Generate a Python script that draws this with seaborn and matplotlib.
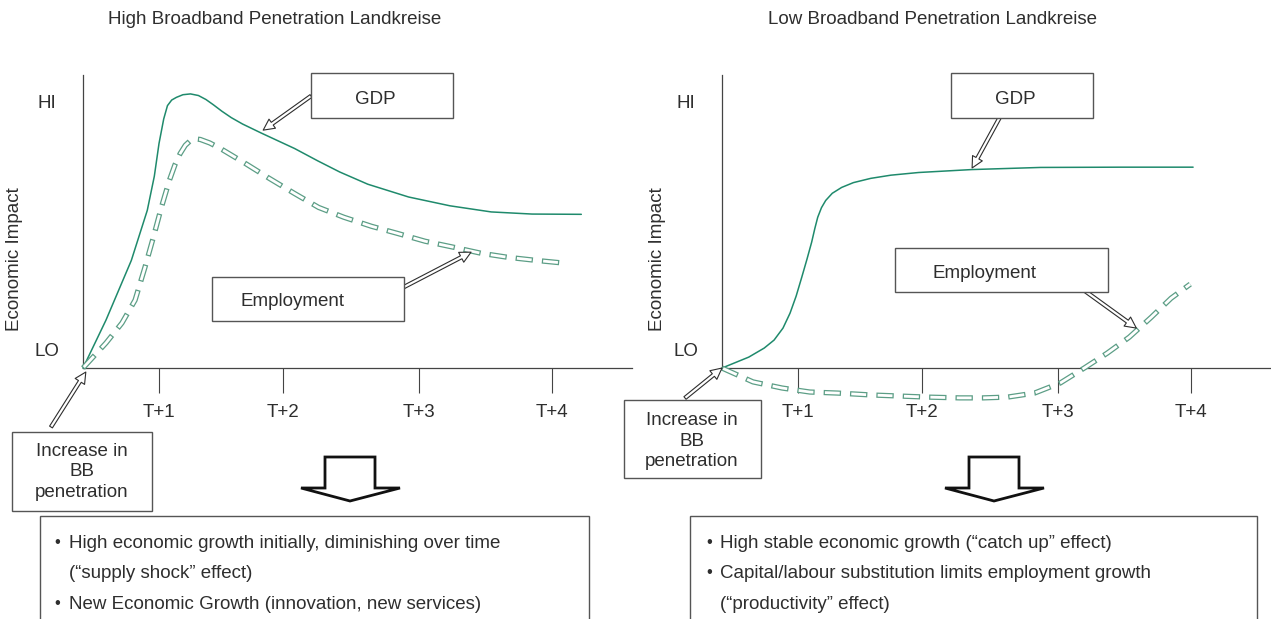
"""
Broadband penetration -> economic impact (schematic), two panels
"""

import numpy as np
import pandas as pd
import matplotlib
matplotlib.use("Agg")
import matplotlib.pyplot as plt
from matplotlib.patches import Rectangle, Polygon
import seaborn as sns

# ─────────────────────────────────────────────
# DATA  (x: time, T+4 = 100 ; y: impact, LO-axis = 0, HI = 100)
# ─────────────────────────────────────────────
TICK_POS    = [16.2, 42.6, 71.5, 100]
TICK_LABELS = ["T+1", "T+2", "T+3", "T+4"]
Y_TICKS     = [6.8, 100]
Y_LABELS    = ["LO", "HI"]

# high penetration panel
hi_gdp_x = [0, 4.9, 10.3, 13.7, 15.2, 16.2, 17.2, 18.0, 18.9, 19.9, 21.3, 22.9, 24.6,
            26.2, 27.8, 29.6, 31.6, 34.0, 38.0, 45.1, 50.0, 54.7, 60.7, 69.4, 78.2,
            87.0, 95.7, 106.2]
hi_gdp_y = [0, 18.0, 40.4, 59.2, 72.0, 84.3, 93.5, 98.5, 100.6, 101.6, 102.6, 102.9, 102.3,
            100.8, 98.8, 96.4, 94.0, 91.6, 88.2, 82.4, 77.8, 73.6, 69.0, 64.2, 60.9,
            58.6, 57.8, 57.7]
hi_emp_x = [0, 4.9, 8.3, 11.1, 13.2, 15.0, 16.7, 18.4, 19.6, 20.7, 21.8, 22.9, 24.0, 25.0,
            27.0, 29.3, 34.6, 39.7, 45.1, 50.2, 55.6, 61.5, 66.9, 72.9, 79.1, 84.8, 90.4,
            96.6, 103.0]
hi_emp_y = [0, 9.4, 16.9, 25.5, 37.8, 49.1, 60.3, 70.4, 76.3, 80.5, 83.6, 85.4, 86.0, 85.8,
            84.5, 82.4, 76.8, 71.2, 65.5, 60.3, 56.6, 53.2, 50.6, 47.6, 45.3, 43.1, 41.6,
            40.4, 39.3]

# low penetration panel
lo_gdp_x = [0, 5.7, 9.0, 11.1, 13.0, 14.5, 15.8, 17.0, 18.1, 19.1, 19.8, 20.4, 21.2,
            22.1, 23.5, 25.5, 28.0, 31.7, 36.0, 41.9, 53.2, 67.9, 85.1, 100.4]
lo_gdp_y = [0, 4.1, 7.5, 10.5, 15.0, 20.6, 27.0, 34.1, 40.8, 47.2, 52.5, 56.6, 60.2,
            62.9, 65.6, 67.8, 69.6, 71.2, 72.4, 73.4, 74.5, 75.3, 75.4, 75.4]
lo_emp_x = [0, 6.6, 12.8, 18.7, 24.7, 31.7, 37.7, 43.6, 50.6, 55.7, 60.9, 66.6,
            72.1, 77.2, 82.1, 86.8, 91.5, 95.7, 99.8]
lo_emp_y = [0, -5.2, -7.5, -9.0, -9.4, -10.1, -10.5, -10.9, -11.2, -11.2, -10.9, -9.4,
            -5.6, 0, 5.6, 11.6, 19.1, 26.2, 31.5]

TITLES = ["High Broadband Penetration Landkreise", "Low Broadband Penetration Landkreise"]
BULLETS_HI = [("•", "High economic growth initially, diminishing over time"),
              ("", "(“supply shock” effect)"),
              ("•", "New Economic Growth (innovation, new services)")]
BULLETS_LO = [("•", "High stable economic growth (“catch up” effect)"),
              ("•", "Capital/labour substitution limits employment growth"),
              ("", "(“productivity” effect)")]

# ─────────────────────────────────────────────
# STYLE
# ─────────────────────────────────────────────
sns.set_theme(style="white")
plt.rcParams["font.family"] = ["Liberation Sans", "DejaVu Sans"]
plt.rcParams["lines.scale_dashes"] = False

GREEN   = "#1f8a6c"
DASHGRN = "#5c9e86"
INK     = "#2e2e2e"
AXC     = "#444444"
FS      = 13.5

W, H = 1271, 619
fig = plt.figure(figsize=(W / 100, H / 100), dpi=100)
fig.patch.set_facecolor("white")


def fx(x):
    return x / W


def fy(y):
    return 1 - y / H


def hollow_dash(ax, x, y):
    df = pd.DataFrame({"x": x, "y": y})
    on, off, d = 12.5, 6.5, 0.9
    sns.lineplot(data=df, x="x", y="y", ax=ax, sort=False, estimator=None,
                 color=DASHGRN, lw=3.8, linestyle=(0, (on, off)), clip_on=False)
    sns.lineplot(data=df, x="x", y="y", ax=ax, sort=False, estimator=None,
                 color="white", lw=2.0, linestyle=(on + off - d, (on - 2 * d, off + 2 * d)),
                 clip_on=False)


def panel(left_px, gdp, emp, title, title_x, ylab_x):
    ax = fig.add_axes([fx(left_px), (H - 408) / H, 549 / W, 333 / H])
    ax.set_xlim(0, 117)
    ax.set_ylim(-15, 110)
    ax.patch.set_alpha(0)

    sns.lineplot(x=gdp[0], y=gdp[1], ax=ax, sort=False, estimator=None,
                 color=GREEN, lw=1.1, clip_on=False)
    hollow_dash(ax, emp[0], emp[1])

    for s in ["top", "right"]:
        ax.spines[s].set_visible(False)
    ax.spines["bottom"].set_position(("data", 0))
    ax.spines["left"].set_bounds(0, 110)
    for s in ["bottom", "left"]:
        ax.spines[s].set_color(AXC)
        ax.spines[s].set_linewidth(0.9)
        ax.spines[s].set_zorder(0.5)

    ax.set_xticks(TICK_POS)
    ax.set_xticklabels(TICK_LABELS)
    ax.tick_params(axis="x", direction="out", length=18, width=0.8, color=AXC,
                   pad=8, labelsize=FS, labelcolor=INK, bottom=True)
    ax.set_yticks(Y_TICKS)
    ax.set_yticklabels(Y_LABELS)
    ax.tick_params(axis="y", length=0, pad=26, labelsize=FS, labelcolor=INK, left=True)
    for t in ax.get_yticklabels():
        t.set_ha("center")
    ax.set_xlabel("")
    ax.set_ylabel("Economic Impact", fontsize=FS, color=INK)
    ax.yaxis.set_label_coords(ylab_x, 0.447)

    fig.text(fx(title_x), fy(20), title, ha="center", va="center", fontsize=FS, color=INK)
    return ax


def box(x0, y0, x1, y1, lw=1.0, ec="#555555"):
    fig.patches.append(Rectangle((fx(x0), fy(y1)), fx(x1) - fx(x0), fy(y0) - fy(y1),
                                 transform=fig.transFigure, fill=True, fc="white",
                                 ec=ec, lw=lw, zorder=3))


def pointer(ax, xy, start_px):
    ax.annotate("", xy=xy, xycoords="data",
                xytext=(fx(start_px[0]), fy(start_px[1])), textcoords="figure fraction",
                arrowprops=dict(arrowstyle="simple,head_length=8,head_width=8,tail_width=2.4",
                                mutation_scale=1, fc="white", ec=INK, lw=0.8,
                                shrinkA=0, shrinkB=0), annotation_clip=False, zorder=5)


def big_arrow(cx):
    pts = [(cx - 25, 457), (cx + 25, 457), (cx + 25, 488), (cx + 50, 488),
           (cx, 501), (cx - 49, 488), (cx - 25, 488)]
    fig.patches.append(Polygon([(fx(a), fy(b)) for a, b in pts], closed=True,
                               transform=fig.transFigure, fc="white", ec="#111111",
                               lw=2.0, joinstyle="miter", zorder=3))


# ─────────────────────────────────────────────
# PANELS
# ─────────────────────────────────────────────
ax_l = panel(83, (hi_gdp_x, hi_gdp_y), (hi_emp_x, hi_emp_y), TITLES[0], 275, -0.110)
ax_r = panel(722, (lo_gdp_x, lo_gdp_y), (lo_emp_x, lo_emp_y), TITLES[1], 932, -0.102)

# label boxes
box(311, 73, 453, 118)
fig.text(fx(375), fy(100), "GDP", ha="center", va="center", fontsize=FS, color=INK, zorder=4)
box(212, 277, 404, 321)
fig.text(fx(292), fy(302), "Employment", ha="center", va="center", fontsize=FS, color=INK, zorder=4)
box(951, 73, 1093, 118)
fig.text(fx(1015), fy(100), "GDP", ha="center", va="center", fontsize=FS, color=INK, zorder=4)
box(895, 248, 1108, 292)
fig.text(fx(985), fy(273), "Employment", ha="center", va="center", fontsize=FS, color=INK, zorder=4)

box(12, 432, 152, 511)
fig.text(fx(82), fy(472), "Increase in\nBB\npenetration", ha="center", va="center",
         fontsize=FS, color=INK, linespacing=1.3, zorder=4)
box(624, 400, 761, 478)
fig.text(fx(692), fy(441), "Increase in\nBB\npenetration", ha="center", va="center",
         fontsize=FS, color=INK, linespacing=1.3, zorder=4)

# pointers
pointer(ax_l, (38.4, 89.3), (311, 96))
pointer(ax_l, (82.7, 43.5), (404, 287))
pointer(ax_l, (0.6, -1.5), (51, 427))
pointer(ax_r, (53.3, 75.1), (1000, 117))
pointer(ax_r, (88.3, 15.0), (1085, 291))
pointer(ax_r, (0, 0), (685, 398))

# big down arrows
big_arrow(350)
big_arrow(994)

# summary boxes
box(40, 516, 589, 640)
box(690, 516, 1257, 640)
for (b, t), y in zip(BULLETS_HI, [548, 578, 609]):
    fig.text(fx(57), fy(y - 1), b, ha="center", va="baseline", fontsize=FS - 1.5, color=INK, zorder=4)
    fig.text(fx(69), fy(y), t, ha="left", va="baseline", fontsize=FS, color=INK, zorder=4)
for (b, t), y in zip(BULLETS_LO, [548, 578, 609]):
    fig.text(fx(709), fy(y - 1), b, ha="center", va="baseline", fontsize=FS - 1.5, color=INK, zorder=4)
    fig.text(fx(720), fy(y), t, ha="left", va="baseline", fontsize=FS, color=INK, zorder=4)

plt.savefig("out.png", dpi=100)
plt.close()
